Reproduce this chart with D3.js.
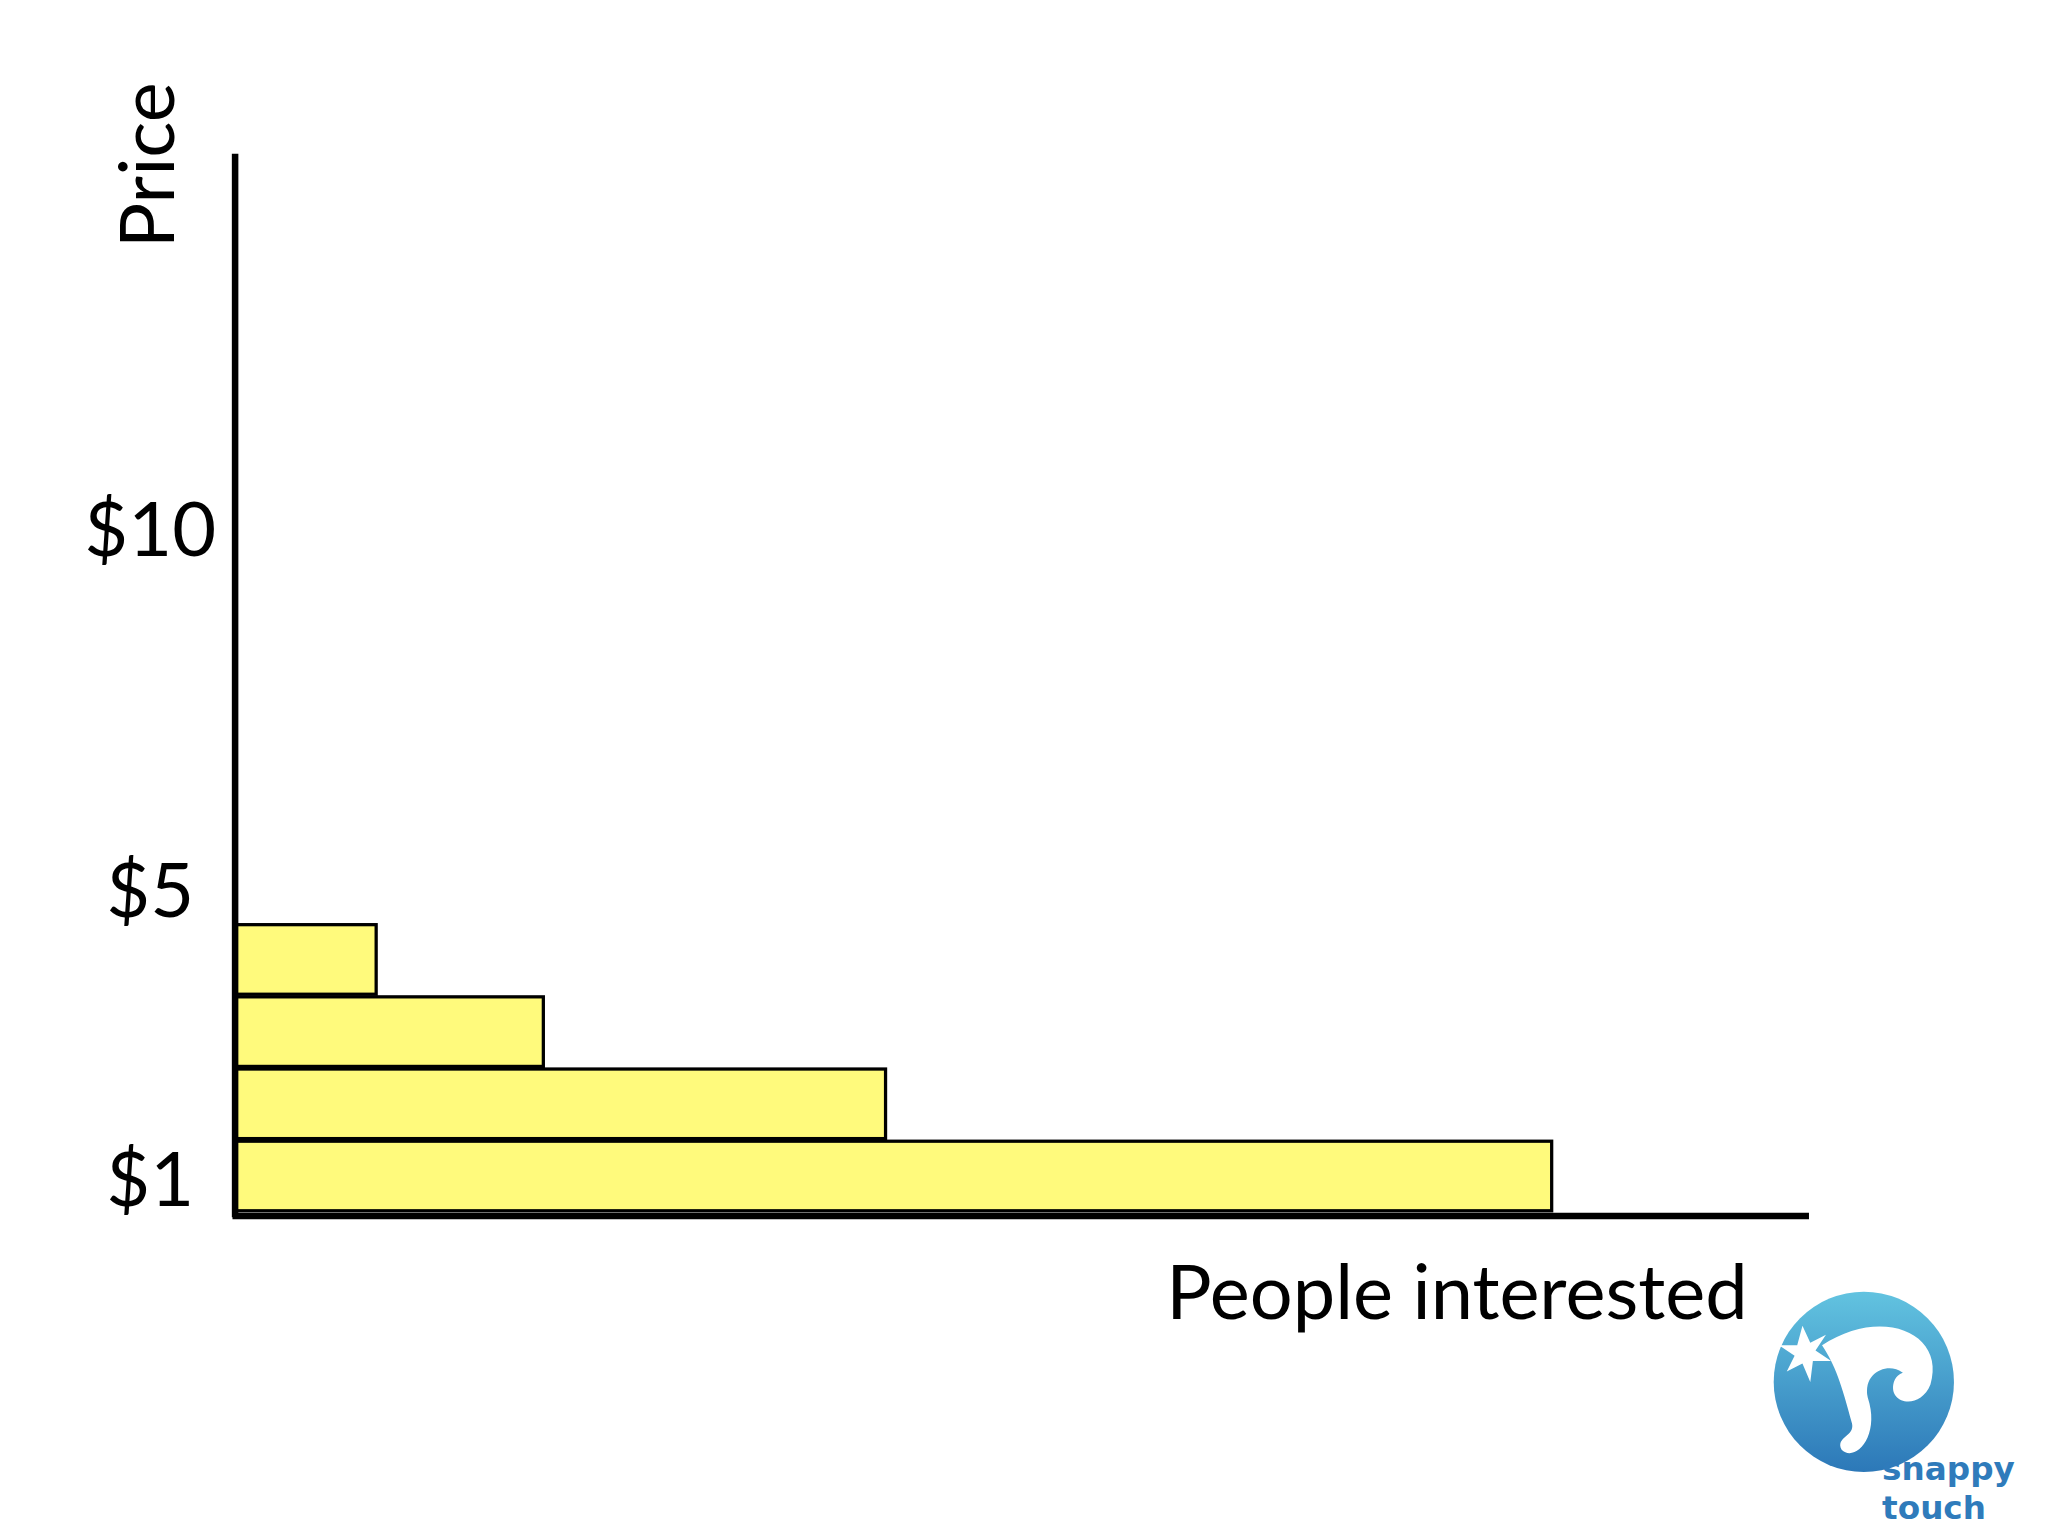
<!DOCTYPE html>
<html><head><meta charset="utf-8">
<script src="https://cdn.jsdelivr.net/npm/d3@7"></script>
<style>body{margin:0;background:#fff}</style>
</head><body>
<script>
// data
var prices = [1, 2, 3, 4];
var people = [1008, 498, 236, 108];
var tickValues = [1, 5, 10];
var tickLabels = ["$1", "$5", "$10"];

var svg = d3.select("body").append("svg")
	.attr("width", 2048).attr("height", 1536)
	.attr("viewBox", "0 0 1568 1176");

var x = d3.scaleLinear().domain([0, 1205]).range([180, 1385]);
var y = d3.scaleLinear().domain([0.5, 10]).range([930, 405]);
var band = y(0.5) - y(1.5);

// bars
svg.selectAll("rect.bar").data(prices).enter().append("rect")
	.attr("class", "bar")
	.attr("x", x(0))
	.attr("y", function (d) { return y(d + 0.5) - 1; })
	.attr("width", function (d, i) { return x(people[i]) - x(0); })
	.attr("height", band - 2)
	.attr("fill", "#fffa7c")
	.attr("stroke", "#000").attr("stroke-width", 2.5);

// axes lines
svg.append("line").attr("x1", 180).attr("x2", 180).attr("y1", y(15.2)).attr("y2", 932)
	.attr("stroke", "#000").attr("stroke-width", 5);
svg.append("line").attr("x1", 178).attr("x2", 1385).attr("y1", 931).attr("y2", 931)
	.attr("stroke", "#000").attr("stroke-width", 5);

// tick labels
svg.selectAll("text.tick").data(tickValues).enter().append("text")
	.attr("class", "tick")
	.attr("x", 115).attr("y", function (d) { return y(d) + 21; })
	.attr("text-anchor", "middle")
	.attr("font-family", "Lato, sans-serif").attr("font-size", 58)
	.text(function (d, i) { return tickLabels[i]; });

svg.append("text")
	.attr("transform", "translate(133,190) rotate(-90)")
	.attr("font-family", "Lato, sans-serif").attr("font-size", 58)
	.text("Price");

svg.append("text")
	.attr("x", 1338).attr("y", 1010).attr("text-anchor", "end")
	.attr("font-family", "Lato, sans-serif").attr("font-size", 58)
	.text("People interested");

// logo
var grad = svg.append("defs").append("linearGradient").attr("id", "lg")
	.attr("x1", "0%").attr("y1", "0%").attr("x2", "0%").attr("y2", "100%");
grad.append("stop").attr("offset", "0%").attr("stop-color", "#62c3e0");
grad.append("stop").attr("offset", "100%").attr("stop-color", "#2c78b8");
svg.append("circle").attr("cx", 1427).attr("cy", 1058).attr("r", 69).attr("fill", "url(#lg)");
svg.append("path")
	.attr("d", "M1395,1030 C1440,1000 1490,1020 1478,1060 C1470,1080 1445,1075 1450,1058 C1455,1045 1470,1052 1462,1060 C1458,1040 1425,1045 1430,1070 C1440,1100 1420,1120 1410,1110 C1405,1100 1420,1100 1418,1090 C1410,1060 1405,1045 1395,1030 Z")
	.attr("fill", "#fff");
svg.append("path")
	.attr("d", "M1380,1015 L1386,1028 L1398,1022 L1390,1034 L1402,1042 L1388,1042 L1386,1058 L1380,1044 L1368,1050 L1374,1038 L1362,1030 L1376,1030 Z")
	.attr("fill", "#fff");
svg.selectAll("text.logo").data(["snappy", "touch"]).enter().append("text")
	.attr("class", "logo")
	.attr("x", 1441).attr("y", function (d, i) { return 1133 + i * 30; })
	.attr("font-family", "DejaVu Sans, sans-serif").attr("font-weight", "bold")
	.attr("font-size", 25).attr("fill", "#2f7bbb")
	.text(function (d) { return d; });
</script>
</body></html>
